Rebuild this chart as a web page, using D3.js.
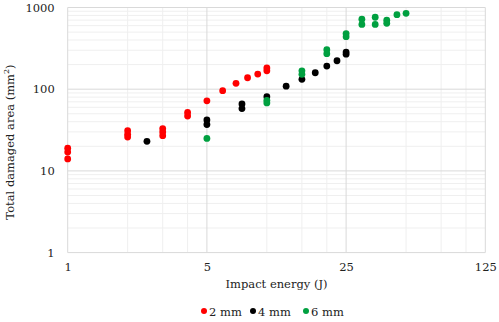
<!DOCTYPE html>
<html>
<head>
<meta charset="utf-8">
<script src="https://cdn.jsdelivr.net/npm/d3@7"></script>
<style>
  body { margin: 0; background: #fff; }
</style>
</head>
<body>
<script>
// Damaged Area vs Impact Energy Scatter (log-log)

// const and Global Variables
const w = 499; // Space Width
const h = 322; // Space Height
const plot = { left: 67.7, right: 485.3, top: 7.5, bottom: 252.6 };
const serif = "'DejaVu Serif'";
const fs = 11.5; // Font Size

// Tick Values
const xTicks = [1, 5, 25, 125];
const yTicks = [1, 10, 100, 1000];

// Legend Categories
const categories = ["2 mm", "4 mm", "6 mm"];
const colors = ["#ff0000", "#000000", "#00a040"];

// 2 mm Series
const energy2 = [1, 1, 1, 2, 2, 2, 3, 3, 3, 4, 4, 5, 6, 7, 8, 9, 10, 10];
const area2 = [19, 17, 14, 31, 28, 26, 33, 30, 27, 52, 47, 72, 96, 118, 138, 153, 182, 168];

// 4 mm Series
const energy4 = [2.5, 5, 5, 7.5, 7.5, 10, 12.5, 15, 17.5, 20, 22.5, 25, 25];
const area4 = [23, 42, 37, 66, 58, 81, 109, 132, 159, 192, 223, 285, 268];

// 6 mm Series
const energy6 = [5, 10, 10, 15, 15, 20, 20, 25, 25, 30, 30, 35, 35, 40, 40, 45, 50];
const area6 = [25, 73, 68, 168, 152, 305, 272, 480, 440, 720, 620, 760, 620, 700, 640, 817, 849];

const series = [
    { name: categories[0], color: colors[0], x: energy2, y: area2 },
    { name: categories[1], color: colors[1], x: energy4, y: area4 },
    { name: categories[2], color: colors[2], x: energy6, y: area6 }
];

// xScale Function (log base 5)
const xScale = d3.scaleLog()
                 .base(5)
                 .domain([1, 125])
                 .range([plot.left, plot.right]);

// yScale Function (log base 10)
const yScale = d3.scaleLog()
                 .domain([1, 1000])
                 .range([plot.bottom, plot.top]);

// SVG Container
const svg = d3.select("body")
              .append("svg")
              .attr("width", w)
              .attr("height", h)
              .attr("font-family", serif);

// Minor Gridlines
const xMinor = [];
[1, 5, 25].forEach(p => [2, 3, 4].forEach(k => xMinor.push(k * p)));
const yMinor = [];
[1, 10, 100].forEach(p => d3.range(2, 10).forEach(k => yMinor.push(k * p)));

svg.append("g")
   .selectAll("line")
   .data(xMinor)
   .join("line")
   .attr("x1", d => xScale(d)).attr("x2", d => xScale(d))
   .attr("y1", plot.top).attr("y2", plot.bottom)
   .attr("stroke", "#efefef");
svg.append("g")
   .selectAll("line")
   .data(yMinor)
   .join("line")
   .attr("x1", plot.left).attr("x2", plot.right)
   .attr("y1", d => yScale(d)).attr("y2", d => yScale(d))
   .attr("stroke", "#efefef");

// Major Gridlines
svg.append("g")
   .selectAll("line")
   .data(xTicks)
   .join("line")
   .attr("x1", d => xScale(d)).attr("x2", d => xScale(d))
   .attr("y1", plot.top).attr("y2", plot.bottom)
   .attr("stroke", "#d9d9d9");
svg.append("g")
   .selectAll("line")
   .data(yTicks)
   .join("line")
   .attr("x1", plot.left).attr("x2", plot.right)
   .attr("y1", d => yScale(d)).attr("y2", d => yScale(d))
   .attr("stroke", "#d9d9d9");

// Restyle Axis Text
const styleAxis = g => {
    g.select(".domain").remove();
    g.attr("font-family", serif).attr("font-size", fs);
    g.selectAll("text").attr("fill", "#222");
};

// Bottom Axis Labels
const bottomAxis = d3.axisBottom(xScale)
                     .tickValues(xTicks)
                     .tickFormat(d3.format("d"))
                     .tickSize(0)
                     .tickPadding(10);
svg.append("g")
   .attr("transform", "translate(0," + plot.bottom + ")")
   .call(bottomAxis)
   .call(styleAxis);

// Left Axis Labels
const leftAxis = d3.axisLeft(yScale)
                   .tickValues(yTicks)
                   .tickFormat(d3.format("d"))
                   .tickSize(0)
                   .tickPadding(13);
svg.append("g")
   .attr("transform", "translate(" + plot.left + ",0)")
   .call(leftAxis)
   .call(styleAxis);

// Scatter Points
series.forEach(s => {
    svg.append("g")
       .selectAll("circle")
       .data(s.x.map((x, i) => ({ x: x, y: s.y[i] })))
       .join("circle")
       .attr("cx", d => xScale(d.x))
       .attr("cy", d => yScale(d.y))
       .attr("r", 3.4)
       .attr("fill", s.color);
});

// X-Axis Label
svg.append("text")
   .attr("x", (plot.left + plot.right) / 2)
   .attr("y", 288)
   .attr("text-anchor", "middle")
   .attr("font-size", fs)
   .attr("fill", "#222")
   .text("Impact energy (J)");

// Y-Axis Label
const yLabel = svg.append("text")
   .attr("transform", "rotate(-90)")
   .attr("x", -142)
   .attr("y", 14)
   .attr("text-anchor", "middle")
   .attr("font-size", fs)
   .attr("fill", "#222")
   .text("Total damaged area (mm");
yLabel.append("tspan").attr("font-size", 8).attr("dy", -5).text("2");
yLabel.append("tspan").attr("dy", 5).text(")");

// Legend
const legendX = [204, 253, 306];
const legend = svg.append("g")
                  .selectAll("g")
                  .data(series)
                  .join("g")
                  .attr("transform", (d, i) => "translate(" + legendX[i] + ",311)");
legend.append("circle")
      .attr("r", 3)
      .attr("fill", d => d.color);
legend.append("text")
      .attr("x", 5)
      .attr("y", 4.5)
      .attr("font-size", fs)
      .attr("fill", "#222")
      .text(d => d.name);
</script>
</body>
</html>
